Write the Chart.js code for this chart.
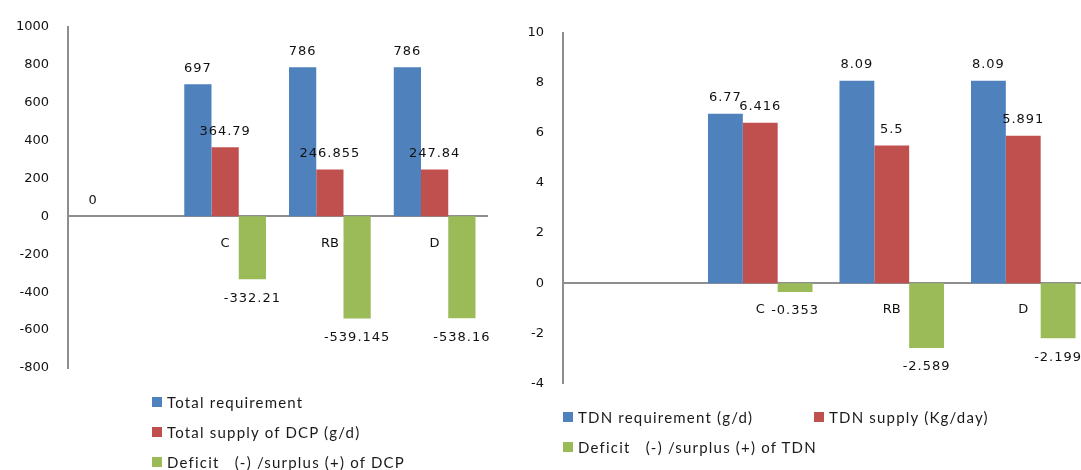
<!DOCTYPE html>
<html>
<head>
<meta charset="utf-8">
<script src="https://cdn.jsdelivr.net/npm/chart.js@4.4.1/dist/chart.umd.min.js"></script>
<style>
  html, body { margin: 0; padding: 0; background: #fff; overflow: hidden; }
  #wrap { position: relative; width: 1081px; height: 470px; overflow: hidden; }
  canvas { position: absolute; top: 0; }
  #dcpChart { left: 0; }
  #tdnChart { left: 495px; }
  .legend { position: absolute; font-family: Lato, sans-serif; font-size: 15px; letter-spacing: 1.2px; color: #1a1a1a; display: flex; flex-wrap: wrap; }
  .legend .item { display: flex; align-items: center; height: 30px; white-space: pre; }
  .legend .box { width: 10px; height: 10px; margin-right: 5px; flex: none; }
  #dcpLegend { left: 152px; top: 387px; width: 300px; flex-direction: column; }
  #tdnLegend { left: 563px; top: 402px; width: 510px; }
  #tdnLegend .item { width: 251px; }
</style>
</head>
<body>
<div id="wrap">
  <canvas id="dcpChart" width="500" height="410"></canvas>
  <canvas id="tdnChart" width="600" height="410"></canvas>
  <div class="legend" id="dcpLegend"></div>
  <div class="legend" id="tdnLegend"></div>
</div>
<script>
// categories (first one is an empty slot in the original)
const categories = ['', 'C', 'RB', 'D'];

// DCP chart
const dcpNames = ['Total requirement', 'Total supply of DCP (g/d)', 'Deficit   (-) /surplus (+) of DCP'];
const dcpRequirement = [0, 697, 786, 786];
const dcpSupply = [null, 364.79, 246.855, 247.84];
const dcpBalance = [null, -332.21, -539.145, -538.16];
const dcpMin = -800, dcpMax = 1000, dcpStep = 200;

// TDN chart
const tdnNames = ['TDN requirement (g/d)', 'TDN supply (Kg/day)', 'Deficit   (-) /surplus (+) of TDN'];
const tdnRequirement = [null, 6.77, 8.09, 8.09];
const tdnSupply = [null, 6.416, 5.5, 5.891];
const tdnBalance = [null, -0.353, -2.589, -2.199];
const tdnMin = -4, tdnMax = 10, tdnStep = 2;

const colors = ['#4F81BD', '#C0504D', '#9BBB59'];
const axisColor = '#8e8e8e';
const textColor = '#111';
const textFont = { family: '"DejaVu Sans"', size: 13 };

// numbers over / under each bar
const valueLabels = {
  id: 'valueLabels',
  afterDatasetsDraw(chart) {
    const ctx = chart.ctx;
    ctx.save();
    ctx.font = '13px "DejaVu Sans"';
    ctx.fillStyle = textColor;
    ctx.textAlign = 'center';
    ctx.textBaseline = 'middle';
    ctx.letterSpacing = '1px';
    chart.data.datasets.forEach((ds, i) => {
      chart.getDatasetMeta(i).data.forEach((bar, j) => {
        const v = ds.data[j];
        if (v === null) return;
        const y = v >= 0 ? bar.y - 16 : bar.y + 19;
        ctx.fillText(String(v), bar.x, y);
      });
    });
    ctx.restore();
  }
};

function makeChart(id, names, series, min, max, step, catPct, padding) {
  return new Chart(document.getElementById(id), {
    type: 'bar',
    data: {
      labels: categories,
      datasets: series.map((d, i) => ({
        label: names[i],
        data: d,
        backgroundColor: colors[i],
        borderWidth: 0,
        barPercentage: 1,
        categoryPercentage: catPct
      }))
    },
    options: {
      responsive: false,
      animation: false,
      layout: { padding: padding },
      plugins: { legend: { display: false }, tooltip: { enabled: false } },
      scales: {
        x: {
          position: { y: 0 },
          grid: { display: false, drawTicks: false },
          border: { display: true, color: axisColor, width: 2 },
          ticks: { font: textFont, color: textColor, padding: 19 }
        },
        y: {
          min: min,
          max: max,
          grid: { display: false, drawTicks: false },
          border: { display: true, color: axisColor, width: 2 },
          ticks: { stepSize: step, font: textFont, color: textColor, padding: 19, callback: v => String(v) },
          afterFit(scale) { scale.width = 68; }
        }
      }
    },
    plugins: [valueLabels]
  });
}

// nudge the padding until the plot area sits where the original's does
function fitArea(chart, top, bottom) {
  for (let k = 0; k < 4; k++) {
    const a = chart.chartArea;
    const p = chart.options.layout.padding;
    p.top = Math.max(0, p.top + (top - a.top));
    p.bottom = Math.max(0, p.bottom + (a.bottom - bottom));
    chart.update();
  }
}

function buildLegend(chart, elId) {
  const box = document.getElementById(elId);
  chart.data.datasets.forEach(ds => {
    const item = document.createElement('div');
    item.className = 'item';
    const sq = document.createElement('span');
    sq.className = 'box';
    sq.style.background = ds.backgroundColor;
    item.appendChild(sq);
    item.appendChild(document.createTextNode(ds.label));
    box.appendChild(item);
  });
}

const dcpChart = makeChart('dcpChart', dcpNames, [dcpRequirement, dcpSupply, dcpBalance],
  dcpMin, dcpMax, dcpStep, 0.78, { top: 24, right: 13, bottom: 20, left: 0 });
const tdnChart = makeChart('tdnChart', tdnNames, [tdnRequirement, tdnSupply, tdnBalance],
  tdnMin, tdnMax, tdnStep, 0.795, { top: 33, right: 6, bottom: 8, left: 0 });

fitArea(dcpChart, 24, 368);
fitArea(tdnChart, 33, 382);

buildLegend(dcpChart, 'dcpLegend');
buildLegend(tdnChart, 'tdnLegend');
</script>
</body>
</html>
